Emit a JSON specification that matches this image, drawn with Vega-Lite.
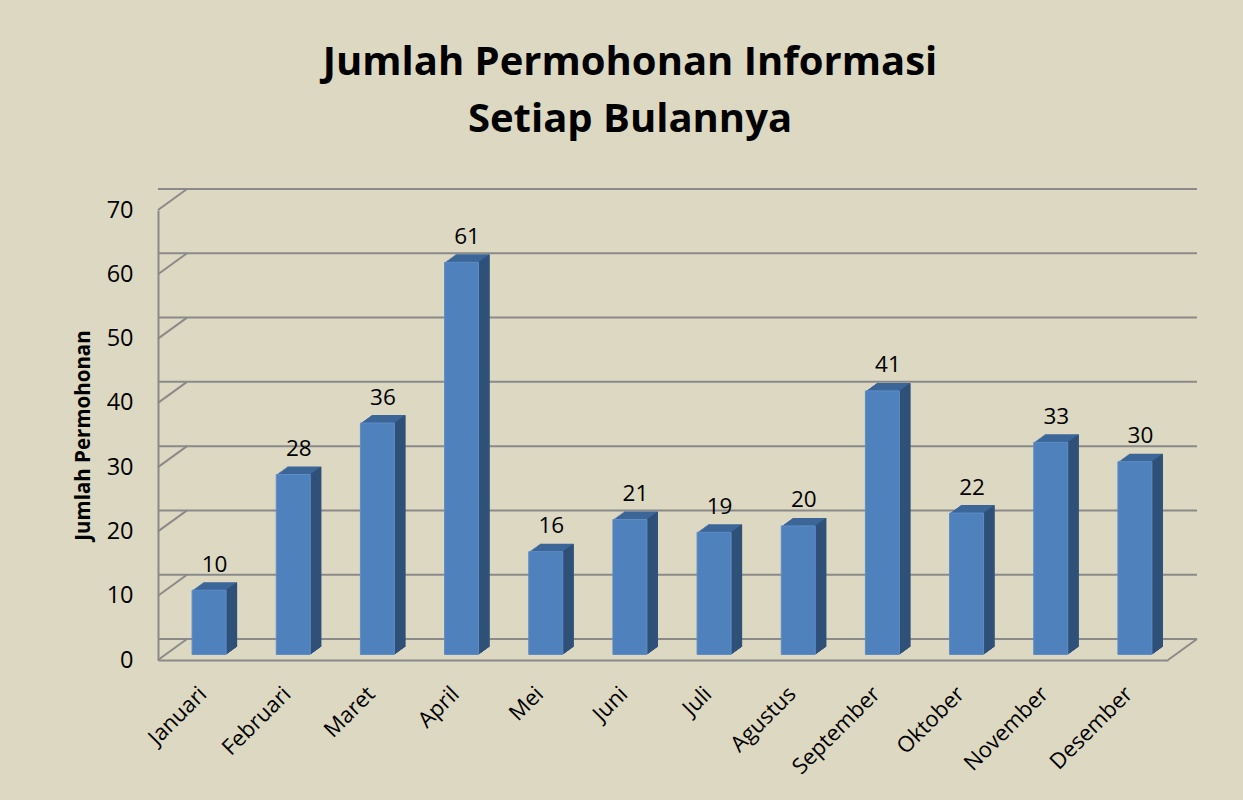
{
  "$schema": "https://vega.github.io/schema/vega-lite/v6.json",
  "autosize": {"type": "none"},
  "padding": {"left": 158, "top": 210, "right": 75, "bottom": 140},
  "width": 1010,
  "height": 450,
  "background": "#DDD8C2",
  "datasets": {
    "months": [
      {"bulan": "Januari", "jumlah": 10},
      {"bulan": "Februari", "jumlah": 28},
      {"bulan": "Maret", "jumlah": 36},
      {"bulan": "April", "jumlah": 61},
      {"bulan": "Mei", "jumlah": 16},
      {"bulan": "Juni", "jumlah": 21},
      {"bulan": "Juli", "jumlah": 19},
      {"bulan": "Agustus", "jumlah": 20},
      {"bulan": "September", "jumlah": 41},
      {"bulan": "Oktober", "jumlah": 22},
      {"bulan": "November", "jumlah": 33},
      {"bulan": "Desember", "jumlah": 30}
    ],
    "grid": [
      {"v": 0}, {"v": 10}, {"v": 20}, {"v": 30}, {"v": 40}, {"v": 50}, {"v": 60}, {"v": 70}
    ]
  },
  "title": {
    "text": ["Jumlah Permohonan Informasi", "Setiap Bulannya"],
    "font": "Open Sans",
    "fontSize": 40,
    "fontWeight": "bold",
    "color": "#000000",
    "lineHeight": 57,
    "anchor": "middle",
    "frame": "group",
    "dx": -33,
    "baseline": "bottom",
    "offset": 8
  },
  "config": {
    "view": {"stroke": null},
    "axis": {"labelFont": "Open Sans", "titleFont": "Open Sans", "labelColor": "#000000", "titleColor": "#000000"}
  },
  "layer": [
    {
      "data": {"name": "grid"},
      "mark": {"type": "rule", "color": "#8A8A8A", "strokeWidth": 2, "xOffset": 29, "x2Offset": 29, "yOffset": -21, "y2Offset": -21},
      "encoding": {
        "y": {"field": "v", "type": "quantitative", "scale": {"domain": [0, 70]},
          "axis": {"values": [0, 10, 20, 30, 40, 50, 60, 70], "grid": false, "ticks": false, "domain": true, "domainColor": "#8A8A8A", "domainWidth": 2, "labelFontSize": 23.5, "labelPadding": 25, "title": "Jumlah Permohonan", "titleFontSize": 20.5, "titleFontWeight": "bold", "titlePadding": 13}}
      }
    },
    {
      "data": {"name": "grid"},
      "mark": {"type": "rule", "color": "#8A8A8A", "strokeWidth": 2, "x2Offset": 29, "y2Offset": -21},
      "encoding": {
        "x": {"datum": "Januari", "type": "nominal", "bandPosition": 0},
        "x2": {"datum": "Januari", "bandPosition": 0},
        "y": {"field": "v", "type": "quantitative"},
        "y2": {"field": "v"}
      }
    },
    {
      "data": {"values": [{"v": 0}]},
      "mark": {"type": "rule", "color": "#8A8A8A", "strokeWidth": 2, "x2Offset": 29, "y2Offset": -21},
      "encoding": {
        "x": {"datum": "Desember", "type": "nominal", "bandPosition": 1},
        "x2": {"datum": "Desember", "bandPosition": 1},
        "y": {"field": "v", "type": "quantitative"},
        "y2": {"field": "v"}
      }
    },
    {
      "data": {"name": "months"},
      "encoding": {
        "x": {"field": "bulan", "type": "nominal", "sort": null,
          "scale": {"domain": ["Januari", "Februari", "Maret", "April", "Mei", "Juni", "Juli", "Agustus", "September", "Oktober", "November", "Desember"], "paddingInner": 0, "paddingOuter": 0},
          "axis": {"title": null, "labelAngle": -45, "labelAlign": "right", "labelBaseline": "middle", "labelFontSize": 22, "labelPadding": 30, "labelOffset": 3, "ticks": false, "grid": false, "domain": true, "domainColor": "#8A8A8A", "domainWidth": 2}},
        "y": {"field": "jumlah", "type": "quantitative"}
      },
      "layer": [
        {"mark": {"type": "bar", "width": 34, "color": "#3C6598", "xOffset": 10.375, "yOffset": -6.5, "y2Offset": -6.5}},
        {"mark": {"type": "bar", "width": 34, "color": "#3C6598", "xOffset": 11.75, "yOffset": -7.5, "y2Offset": -7.5}},
        {"mark": {"type": "bar", "width": 34, "color": "#3C6598", "xOffset": 13.125, "yOffset": -8.5, "y2Offset": -8.5}},
        {"mark": {"type": "bar", "width": 34, "color": "#3C6598", "xOffset": 14.5, "yOffset": -9.5, "y2Offset": -9.5}},
        {"mark": {"type": "bar", "width": 34, "color": "#3C6598", "xOffset": 15.875, "yOffset": -10.5, "y2Offset": -10.5}},
        {"mark": {"type": "bar", "width": 34, "color": "#3C6598", "xOffset": 17.25, "yOffset": -11.5, "y2Offset": -11.5}},
        {"mark": {"type": "bar", "width": 34, "color": "#3C6598", "xOffset": 18.625, "yOffset": -12.5, "y2Offset": -12.5}},
        {"mark": {"type": "bar", "width": 34, "color": "#3C6598", "xOffset": 20, "yOffset": -13.5, "y2Offset": -13.5}},
        {"mark": {"type": "bar", "width": 1.9, "color": "#2F5077", "xOffset": 26.69, "yOffset": -6, "y2Offset": -6}},
        {"mark": {"type": "bar", "width": 1.9, "color": "#2F5077", "xOffset": 28.06, "yOffset": -7, "y2Offset": -7}},
        {"mark": {"type": "bar", "width": 1.9, "color": "#2F5077", "xOffset": 29.44, "yOffset": -8, "y2Offset": -8}},
        {"mark": {"type": "bar", "width": 1.9, "color": "#2F5077", "xOffset": 30.81, "yOffset": -9, "y2Offset": -9}},
        {"mark": {"type": "bar", "width": 1.9, "color": "#2F5077", "xOffset": 32.19, "yOffset": -10, "y2Offset": -10}},
        {"mark": {"type": "bar", "width": 1.9, "color": "#2F5077", "xOffset": 33.56, "yOffset": -11, "y2Offset": -11}},
        {"mark": {"type": "bar", "width": 1.9, "color": "#2F5077", "xOffset": 34.94, "yOffset": -12, "y2Offset": -12}},
        {"mark": {"type": "bar", "width": 1.4, "color": "#2F5077", "xOffset": 36.31, "yOffset": -13, "y2Offset": -13}},
        {"mark": {"type": "bar", "width": 34, "color": "#4F81BD", "stroke": "#5E8DC6", "strokeWidth": 1, "xOffset": 9, "yOffset": -5.5, "y2Offset": -5.5}},
        {
          "mark": {"type": "text", "font": "Open Sans", "fontSize": 22.5, "color": "#000000", "align": "center", "baseline": "alphabetic", "xOffset": 14.5, "yOffset": -24},
          "encoding": {"text": {"field": "jumlah", "type": "quantitative"}}
        }
      ]
    }
  ]
}
